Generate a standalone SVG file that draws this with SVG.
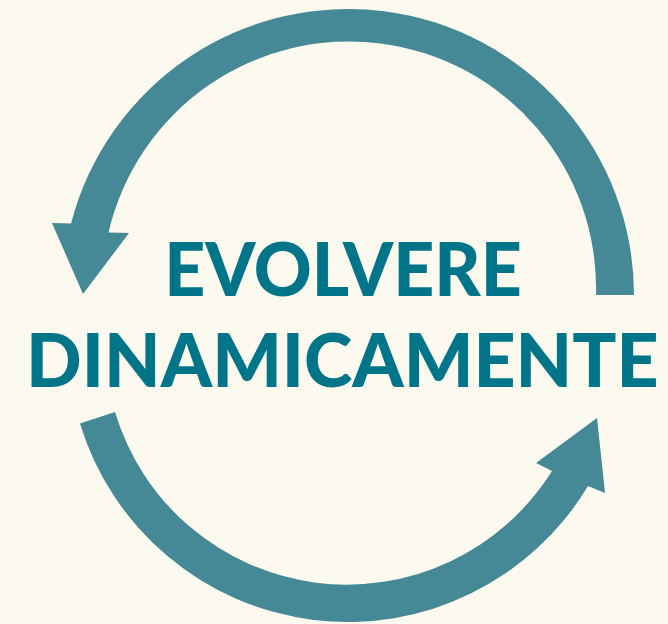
<svg xmlns="http://www.w3.org/2000/svg" width="668" height="624" viewBox="0 0 668 624">
<style>
.arrow{fill:#458896;}
.label{font-family:Lato,"Open Sans","Liberation Sans",sans-serif;font-weight:900;font-size:75px;fill:#00758A;}
</style>
<rect x="0" y="0" width="668" height="624" fill="#FCF9EE"/>
<g id="connectors">
<path id="arrow-top" class="arrow" d="M 634 295 A 286 286 0 0 0 71.1 223.4 L 52 223 L 83 294 L 129 233 L 108.5 232.5 A 247 247 0 0 1 596 295 Z"/>
<path id="arrow-bottom" class="arrow" d="M 80 423.5 A 280 280 0 0 0 588 486 L 605 493 L 597 418 L 536 463 L 552 471 A 242 242 0 0 1 115 412 Z"/>
</g>
<g id="node-title">
<text class="label" x="0" y="296" transform="translate(164.2 0) scale(0.954 1)">EVOLVERE</text>
<text class="label" x="0" y="387" transform="translate(26.1 0) scale(0.977 1)">DINAMICAMENTE</text>
</g>
</svg>
